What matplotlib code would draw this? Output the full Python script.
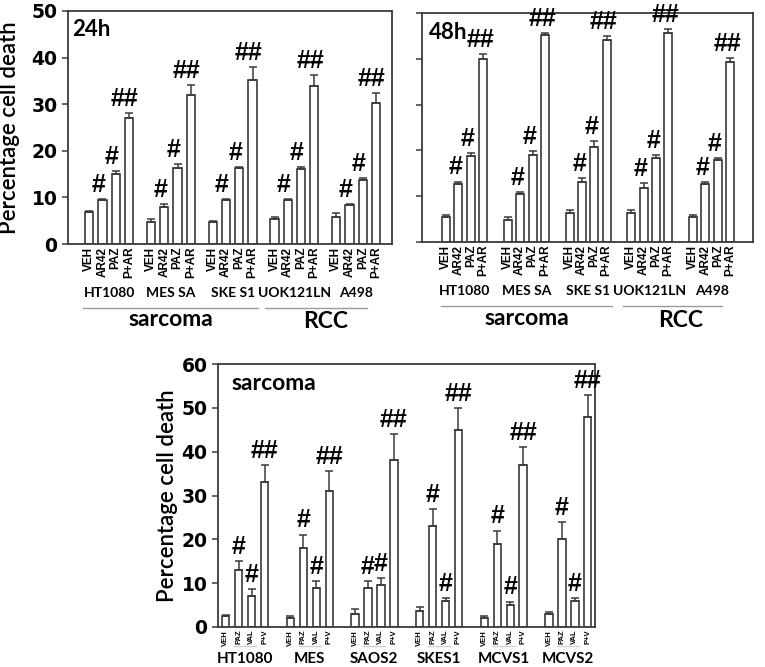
import matplotlib.pyplot as plt
from matplotlib.transforms import blended_transform_factory
import numpy as np

# top panels: cell lines and treatments
groups_top = ['HT1080', 'MES SA', 'SKE S1', 'UOK121LN', 'A498']
treat_top = ['VEH', 'AR42', 'PAZ', 'P+AR']

death_24h = [[6.8, 9.4, 15.0, 27.0],
             [4.8, 8.0, 16.4, 32.0],
             [4.8, 9.4, 16.4, 35.3],
             [5.4, 9.4, 16.0, 34.0],
             [5.8, 8.4, 13.8, 30.3]]
err_24h = [[0.2, 0.3, 0.6, 1.2],
           [0.6, 0.6, 0.7, 2.1],
           [0.2, 0.2, 0.2, 2.6],
           [0.3, 0.3, 0.6, 2.3],
           [0.9, 0.2, 0.3, 2.0]]

death_48h = [[5.4, 12.7, 18.8, 40.0],
             [4.8, 10.5, 19.1, 45.1],
             [6.4, 13.0, 20.8, 44.1],
             [6.4, 11.8, 18.4, 45.7],
             [5.4, 12.7, 17.8, 39.3]]
err_48h = [[0.6, 0.5, 0.6, 1.0],
           [0.6, 0.5, 0.8, 0.6],
           [0.5, 1.0, 1.3, 0.8],
           [0.5, 1.1, 0.5, 0.7],
           [0.6, 0.4, 0.6, 0.9]]

sig_top = ['', '#', '#', '##']

# bottom panel
groups_bot = ['HT1080', 'MES', 'SAOS2', 'SKES1', 'MCVS1', 'MCVS2']
treat_bot = ['VEH', 'PAZ', 'VAL', 'P+V']
death_bot = [[2.6, 13.0, 7.1, 33.0],
             [2.1, 18.1, 9.0, 31.0],
             [3.0, 9.0, 9.5, 38.0],
             [3.6, 23.0, 6.0, 45.0],
             [2.1, 19.0, 5.0, 37.0],
             [3.0, 20.0, 6.0, 48.0]]
err_bot = [[0.2, 2.0, 1.6, 4.0],
           [0.3, 3.0, 1.4, 4.5],
           [1.0, 1.4, 1.6, 6.0],
           [1.0, 4.0, 0.7, 5.0],
           [0.3, 3.0, 0.8, 4.0],
           [0.5, 4.0, 0.7, 5.0]]
sig_bot = ['', '#', '#', '##']

edge = '#3a3a3a'
calibri = 'Lato'
arial = 'Liberation Sans'

fig = plt.figure(figsize=(7.65, 6.67), dpi=100)


def draw_panel(ax, vals, errs, marks, treats, step, width, hash_size, tick_size, hash_dx):
    vals = np.array(vals)
    errs = np.array(errs)
    n = vals.shape[1]
    xs = []
    for g in range(vals.shape[0]):
        x = g * step + np.arange(n)
        xs.extend(x)
        ax.bar(x, vals[g], width=width, color='white', edgecolor=edge, linewidth=1.2, zorder=2)
        ax.errorbar(x, vals[g], yerr=[np.zeros(n), errs[g]], fmt='none', ecolor=edge,
                    elinewidth=1.1, capsize=3, capthick=1.1, zorder=3)
        for i in range(n):
            if marks[i]:
                ax.annotate(marks[i], (x[i], vals[g][i] + errs[g][i]), xytext=(hash_dx, 1.5),
                            textcoords='offset points', ha='center', va='bottom',
                            fontsize=hash_size, fontweight='bold', family=arial, zorder=4)
    ax.set_xticks(xs)
    ax.set_xticklabels(treats * vals.shape[0], rotation=90, fontsize=tick_size,
                       fontweight='bold', family=arial)
    ax.tick_params(axis='x', length=0, pad=2)
    ax.tick_params(axis='y', direction='out', length=4, width=1.1, color=edge)
    for s in ax.spines.values():
        s.set_color(edge)
        s.set_linewidth(1.3)
    return xs


# ---- 24h ----
ax1 = fig.add_axes([68 / 765, 1 - 244 / 667, 324 / 765, 233 / 667])
step1 = 4.66
draw_panel(ax1, death_24h, err_24h, sig_top, treat_top, step1, 0.62, 18, 8.5, -3)
ax1.set_xlim(-1.6, 4 * step1 + 3 + 1.2)
ax1.set_ylim(0, 50)
ax1.set_yticks(range(0, 51, 10))
ax1.set_yticklabels([str(v) for v in range(0, 51, 10)], fontsize=13.5, fontweight='bold',
                    family='DejaVu Sans')
ax1.set_ylabel('Percentage cell death', fontsize=16, fontweight='semibold', family=calibri)
ax1.yaxis.set_label_coords(-0.148, 0.5)
ax1.text(0.013, 0.965, '24h', transform=ax1.transAxes, fontsize=16, fontweight='bold',
         family=calibri, va='top', ha='left')

# ---- 48h ----
ax2 = fig.add_axes([422 / 765, 1 - 242 / 667, 331 / 765, 229 / 667])
step2 = 5.0
draw_panel(ax2, death_48h, err_48h, sig_top, treat_top, step2, 0.65, 18, 8.5, -2)
ax2.set_xlim(-1.95, 4 * step2 + 3 + 1.85)
ax2.set_ylim(0, 50)
ax2.set_yticks(range(0, 51, 10))
ax2.set_yticklabels([])
ax2.text(0.02, 0.96, '48h', transform=ax2.transAxes, fontsize=16, fontweight='bold',
         family=calibri, va='top', ha='left')

# group names and cancer type bars for the top panels
for ax, step, h in [(ax1, step1, 233), (ax2, step2, 229)]:
    tr = blended_transform_factory(ax.transData, ax.transAxes)
    for g, name in enumerate(groups_top):
        ax.text(g * step + 1.5, -49 / h, name, transform=tr, ha='center', va='center',
                fontsize=10, fontweight='bold', family=calibri)
    ax.plot([-0.45, 2 * step + 3.4], [-64 / h, -64 / h], transform=tr, color='#9a9a9a',
            lw=1, clip_on=False)
    ax.plot([3 * step - 0.7, 4 * step + 3.4 - 1.1], [-64 / h, -64 / h], transform=tr,
            color='#9a9a9a', lw=1, clip_on=False)
    ax.text(1 * step + 1.5, -76 / h, 'sarcoma', transform=tr, ha='center', va='center',
            fontsize=16.5, fontweight='bold', family=calibri)
    ax.text(3.5 * step + 1.5, -78 / h, 'RCC', transform=tr, ha='center', va='center',
            fontsize=16.5, fontweight='bold', family=calibri)

# ---- bottom sarcoma panel ----
ax3 = fig.add_axes([218 / 765, 1 - 627 / 667, 377 / 765, 263 / 667])
step3 = 5.0
draw_panel(ax3, death_bot, err_bot, sig_bot, treat_bot, step3, 0.57, 18, 5.5, 0)
ax3.set_xlim(-0.6, 5 * step3 + 3 + 0.56)
ax3.set_ylim(0, 60)
ax3.set_yticks(range(0, 61, 10))
ax3.set_yticklabels([str(v) for v in range(0, 61, 10)], fontsize=13.5, fontweight='bold',
                    family='DejaVu Sans')
ax3.set_ylabel('Percentage cell death', fontsize=16, fontweight='semibold', family=calibri)
ax3.yaxis.set_label_coords(-0.106, 0.5)
ax3.text(0.035, 0.965, 'sarcoma', transform=ax3.transAxes, fontsize=16.5, fontweight='bold',
         family=calibri, va='top', ha='left')
tr3 = blended_transform_factory(ax3.transData, ax3.transAxes)
for g, name in enumerate(groups_bot):
    ax3.plot([g * step3 + 0.65, g * step3 + 2.35], [-19 / 263, -19 / 263], transform=tr3,
             color='#d0d0d0', lw=1, clip_on=False)
    ax3.text(g * step3 + 1.5, -32 / 263, name, transform=tr3, ha='center', va='center',
             fontsize=11, fontweight='bold', family=calibri)

fig.savefig('out.png', dpi=100)
